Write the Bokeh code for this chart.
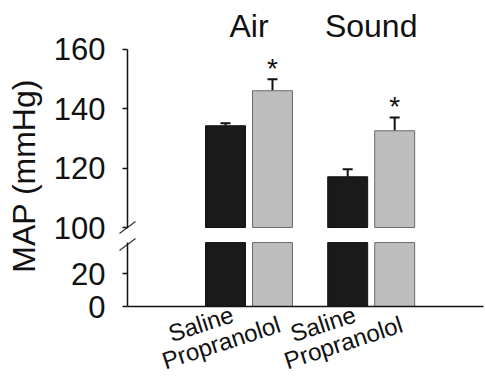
import math
from bokeh.plotting import figure
from bokeh.models import (ColumnDataSource, Range1d, FixedTicker, Whisker, TeeHead,
                          LinearAxis)
from bokeh.embed import file_html
from bokeh.resources import INLINE
from bokeh.core.properties import value

# ---------------- data ----------------
groups = ["Air", "Sound"]
treatments = ["Saline", "Propranolol"]
# order: Air-Saline, Air-Propranolol, Sound-Saline, Sound-Propranolol
map_mean = [134.3, 146.1, 117.1, 132.6]
map_sem = [0.8, 3.9, 2.5, 4.5]
significant = [False, True, False, True]
upper_ticks = [100, 120, 140, 160]
lower_ticks = [0, 20]
y_label = "MAP (mmHg)"

# ---------------- style / layout ----------------
FONT = "Liberation Sans"
INK = "#111111"
BAR_FILLS = ["#1a1a1a", "#bebebe"]
BAR_LINES = ["#111111", "#6a6a6a"]
GROUP_STEP = 2.6
BAR_W = 0.85
LABEL_ANGLE = 18  # degrees

W, H = 485, 376
X_RANGE = (-4.787, 5.532)
UP_RANGE = (49.78, 176.51)      # scale of the upper (broken) segment
LOW_RANGE = (-42.81, 187.16)    # scale of the lower segment
LOW_TOP = 39.1                  # top of lower axis segment
AXIS_X = -2.085                 # where the value axis sits
X_AXIS_END = 5.49
TITLE_POS = (-4.28, 117.4)

px_x = W / (X_RANGE[1] - X_RANGE[0])
px_up = H / (UP_RANGE[1] - UP_RANGE[0])
px_lo = H / (LOW_RANGE[1] - LOW_RANGE[0])

x_pos = [g * GROUP_STEP + t for g in range(len(groups)) for t in range(len(treatments))]
labels = [t for g in groups for t in treatments]
fills = [BAR_FILLS[i % 2] for i in range(len(x_pos))]
lines = [BAR_LINES[i % 2] for i in range(len(x_pos))]
upper = [m + s for m, s in zip(map_mean, map_sem)]
low_top = [min(m, LOW_TOP) for m in map_mean]

src = ColumnDataSource(dict(x=x_pos, top=map_mean, low_top=low_top, upper=upper,
                            fill=fills, line=lines))
star_src = ColumnDataSource(dict(
    x=[x for x, s in zip(x_pos, significant) if s],
    y=[u for u, s in zip(upper, significant) if s],
    t=["*" for s in significant if s]))
group_src = ColumnDataSource(dict(
    x=[(x_pos[2 * g] + x_pos[2 * g + 1]) / 2 for g in range(len(groups))],
    y=[upper_ticks[-1]] * len(groups),
    t=groups))
drops_px = [7, 17]
label_src = ColumnDataSource(dict(
    x=x_pos, t=labels,
    y=[-drops_px[i % 2] / px_lo for i in range(len(x_pos))]))

p = figure(width=W, height=H, x_range=Range1d(*X_RANGE), y_range=Range1d(*UP_RANGE),
           output_backend="svg", toolbar_location=None, tools="",
           x_axis_location=None, y_axis_location=None, min_border=0)
p.extra_y_ranges = {"low": Range1d(*LOW_RANGE)}
p.outline_line_color = None
p.grid.visible = False


def style_y(ax, ticks):
    ax.ticker = FixedTicker(ticks=ticks)
    ax.major_tick_in = 0
    ax.major_tick_out = 5
    ax.minor_tick_line_color = None
    ax.axis_line_width = 1.5
    ax.axis_line_color = INK
    ax.major_tick_line_width = 1.5
    ax.major_tick_line_color = INK
    ax.major_label_text_font = FONT
    ax.major_label_text_font_size = "31px"
    ax.major_label_text_color = INK
    ax.major_label_standoff = 17


up_axis = LinearAxis(fixed_location=AXIS_X, bounds=(upper_ticks[0], upper_ticks[-1]))
style_y(up_axis, upper_ticks)
p.add_layout(up_axis, "left")
low_axis = LinearAxis(y_range_name="low", fixed_location=AXIS_X, bounds=(0, LOW_TOP))
style_y(low_axis, lower_ticks)
p.add_layout(low_axis, "left")

x_axis = LinearAxis(y_range_name="low", fixed_location=0, bounds=(AXIS_X, X_AXIS_END),
                    ticker=FixedTicker(ticks=[]))
x_axis.major_tick_line_color = None
x_axis.minor_tick_line_color = None
x_axis.major_label_text_font_size = "0px"
x_axis.axis_line_width = 1.5
x_axis.axis_line_color = INK
p.add_layout(x_axis, "below")

# bars: upper segment (from the break) and lower segment (up to the break)
p.vbar(x="x", width=BAR_W, bottom=upper_ticks[0], top="top", fill_color="fill",
       line_color="line", line_width=1, source=src)
p.vbar(x="x", width=BAR_W, bottom=0, top="low_top", fill_color="fill",
       line_color="line", line_width=1, source=src, y_range_name="low")

p.add_layout(Whisker(source=src, base="x", lower="top", upper="upper", dimension="height",
                     line_width=2, line_color=INK, lower_head=None,
                     upper_head=TeeHead(size=10, line_width=2, line_color=INK)))

p.text(x="x", y="y", text="t", source=star_src, text_align="center",
       text_baseline="alphabetic", y_offset=-10.5, text_font=value(FONT),
       text_font_size="28px", text_color=INK)
p.text(x="x", y="y", text="t", source=group_src, text_align="center",
       text_baseline="alphabetic", y_offset=-23, text_font=value(FONT),
       text_font_size="32px", text_color=INK)
p.text(x="x", y="y", text="t", source=label_src, y_range_name="low",
       text_align="right", text_baseline="middle", x_offset=7,
       angle=LABEL_ANGLE, angle_units="deg", text_font=value(FONT),
       text_font_size="24px", text_color=INK)

# axis-break marks
half_w = 8 / px_x
p.segment(x0=[AXIS_X - half_w], y0=[upper_ticks[0] - 6 / px_up],
          x1=[AXIS_X + half_w], y1=[upper_ticks[0] + 6 / px_up],
          line_width=1.2, line_color="#333333")
p.segment(x0=[AXIS_X - half_w], y0=[LOW_TOP - 8 / px_lo],
          x1=[AXIS_X + half_w], y1=[LOW_TOP + 4 / px_lo],
          line_width=1.2, line_color="#333333", y_range_name="low")

# y-axis title
p.text(x=[TITLE_POS[0]], y=[TITLE_POS[1]], text=[y_label], angle=math.pi / 2,
       text_align="center", text_baseline="middle", text_font=value(FONT),
       text_font_size="32px", text_color=INK)

open("out.html", "w").write(file_html(p, INLINE))
